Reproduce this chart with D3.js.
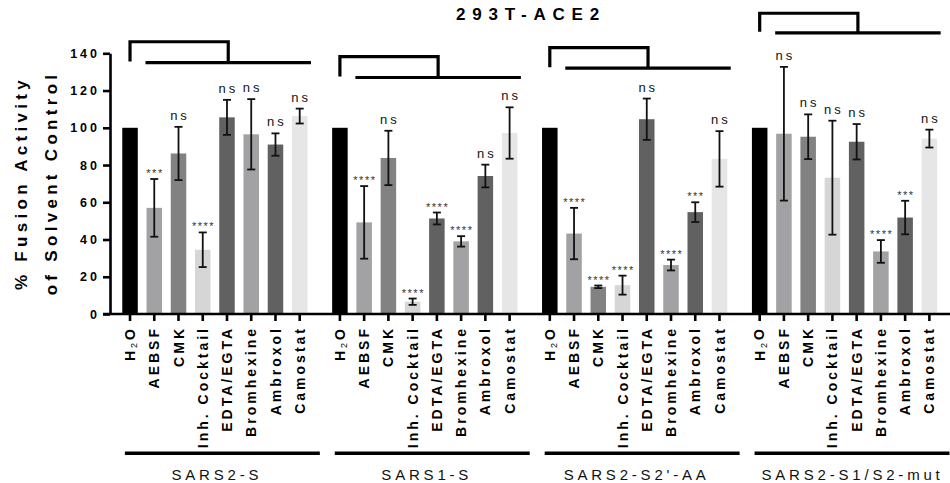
<!DOCTYPE html>
<html><head><meta charset="utf-8">
<script src="https://cdn.jsdelivr.net/npm/d3@7"></script>
<style>
body{margin:0;background:#fff;}
text{font-family:"Liberation Sans",Arial,sans-serif;}
</style></head>
<body><svg id="c" width="950" height="483"></svg>
<script>
const groups = ["SARS2-S","SARS1-S","SARS2-S2'-AA","SARS2-S1/S2-mut"];
const treatments = ["H2O","AEBSF","CMK","Inh. Cocktail","EDTA/EGTA","Bromhexine","Ambroxol","Camostat"];
const barColors = ["#000000","#a2a2a5","#828282","#d6d6d6","#616161","#a2a2a5","#616161","#e6e6e6"];

const meanSARS2S   = [100, 57.0, 86.2, 34.5, 105.6, 96.5, 91.0, 106.3];
const errSARS2S    = [0, 15.5, 14.3, 9.3, 9.4, 18.9, 6.0, 4.0];
const sigSARS2S    = ["", "***", "ns", "****", "ns", "ns", "ns", "ns"];

const meanSARS1S   = [100, 49.2, 83.8, 6.6, 51.3, 39.0, 74.1, 97.2];
const errSARS1S    = [0, 19.5, 14.6, 1.7, 3.2, 2.8, 6.1, 13.8];
const sigSARS1S    = ["", "****", "ns", "****", "****", "****", "ns", "ns"];

const meanS2AA     = [100, 43.2, 14.6, 15.5, 104.6, 26.3, 54.7, 83.3];
const errS2AA      = [0, 13.8, 0.7, 5.1, 11.1, 2.9, 5.3, 14.9];
const sigS2AA      = ["", "****", "****", "****", "ns", "****", "***", "ns"];

const meanS1S2mut  = [100, 96.8, 95.2, 73.2, 92.5, 33.6, 51.8, 94.2];
const errS1S2mut   = [0, 35.9, 12.0, 30.6, 9.5, 6.1, 9.0, 4.8];
const sigS1S2mut   = ["", "ns", "ns", "ns", "ns", "****", "***", "ns"];

const bracketTop = [146.2, 138.2, 143.0, 161.5];
const bracketLow = [135.0, 127.0, 132.0, 151.0];

const yTicks = [0, 20, 40, 60, 80, 100, 120, 140];
const title = "293T-ACE2";
const yTitle1 = "% Fusion Activity";
const yTitle2 = "of Solvent Control";

const means = [meanSARS2S, meanSARS1S, meanS2AA, meanS1S2mut];
const errs = [errSARS2S, errSARS1S, errS2AA, errS1S2mut];
const sigs = [sigSARS2S, sigSARS1S, sigS2AA, sigS1S2mut];

const data = [];
groups.forEach((g, gi) => treatments.forEach((t, ti) => data.push({
  group: g, gi, t, ti, v: means[gi][ti], e: errs[gi][ti], s: sigs[gi][ti], color: barColors[ti]
})));

const svg = d3.select("#c");
const x0 = d3.scaleBand().domain(groups).range([117.9, 941.5]).paddingInner(0.076).paddingOuter(0);
const x1 = d3.scaleBand().domain(treatments).range([0, x0.bandwidth()]).paddingInner(0.36).paddingOuter(0.18);
const y = d3.scaleLinear().domain([0, 140]).range([314, 53.3]);
const cx = d => x0(d.group) + x1(d.t) + x1.bandwidth() / 2;

// bars
svg.append("g").selectAll("rect").data(data).join("rect")
  .attr("x", d => x0(d.group) + x1(d.t))
  .attr("width", x1.bandwidth())
  .attr("y", d => y(d.v))
  .attr("height", d => y(0) - y(d.v))
  .attr("fill", d => d.color);

// error bars
const eb = svg.append("g").attr("stroke", "#111").attr("stroke-width", 1.8).attr("fill", "none");
data.filter(d => d.e > 0).forEach(d => {
  const c = cx(d);
  eb.append("line").attr("x1", c).attr("x2", c).attr("y1", y(d.v + d.e)).attr("y2", y(d.v - d.e));
  eb.append("line").attr("x1", c - 4).attr("x2", c + 4).attr("y1", y(d.v + d.e)).attr("y2", y(d.v + d.e));
  eb.append("line").attr("x1", c - 4).attr("x2", c + 4).attr("y1", y(d.v - d.e)).attr("y2", y(d.v - d.e));
});

// significance labels
svg.append("g").selectAll("text").data(data.filter(d => d.s)).join("text")
  .attr("x", d => cx(d) + (d.s === "ns" ? 1.5 : 0.75))
  .attr("y", d => y(d.v + d.e) - (d.s === "ns" ? 7 : 2))
  .attr("text-anchor", "middle")
  .style("font-size", d => d.s === "ns" ? "13px" : "11px")
  .style("letter-spacing", d => d.s === "ns" ? "3px" : "1.5px")
  .attr("fill", d => d.s === "ns" ? "#111" : "#333")
  .text(d => d.s);

// y axis
const yAxis = svg.append("g").attr("transform", "translate(110,0)")
  .call(d3.axisLeft(y).tickValues(yTicks).tickSize(7).tickSizeOuter(0).tickPadding(3));
yAxis.select(".domain").attr("stroke", "#000").attr("stroke-width", 2.6);
yAxis.selectAll(".tick line").attr("stroke", "#000").attr("stroke-width", 2.6);
yAxis.selectAll(".tick text").attr("fill", "#000").style("font-size", "12.5px").style("font-weight", "bold")
  .style("letter-spacing", "3px").attr("font-family", null);

// x baseline & ticks
svg.append("line").attr("x1", 103).attr("x2", 950).attr("y1", y(0)).attr("y2", y(0))
  .attr("stroke", "#000").attr("stroke-width", 2.6);
svg.append("g").selectAll("line").data(data).join("line")
  .attr("x1", cx).attr("x2", cx).attr("y1", y(0)).attr("y2", y(0) + 7)
  .attr("stroke", "#000").attr("stroke-width", 2.6);

// x tick labels
const xl = svg.append("g").selectAll("text").data(data).join("text")
  .attr("transform", d => `translate(${cx(d)},${y(0) + 12}) rotate(-90)`)
  .attr("text-anchor", "end").attr("dy", "0.36em")
  .style("font-size", "14px").style("font-weight", "bold").style("letter-spacing", "3px");
xl.each(function(d) {
  const t = d3.select(this);
  if (d.t === "H2O") {
    t.append("tspan").text("H");
    t.append("tspan").text("2").style("font-size", "9px").style("font-weight", "normal").attr("dy", "0.25em");
    t.append("tspan").text("O").attr("dy", "-0.18em");
  } else t.text(d.t);
});

// brackets
const br = svg.append("g").attr("stroke", "#000").attr("fill", "none").attr("stroke-width", 3.2);
groups.forEach((g, gi) => {
  const h2o = x0(g) + x1(treatments[0]) + x1.bandwidth() / 2;
  const left = x0(g) + x1(treatments[1]) - 1;
  const right = x0(g) + x1(treatments[7]) + x1.bandwidth() + 3.5;
  const mid = (left + right) / 2;
  br.append("path").attr("d", `M${h2o},${y(bracketLow[gi]) - 1}V${y(bracketTop[gi])}H${mid}V${y(bracketLow[gi])}`);
  br.append("line").attr("x1", left).attr("x2", right).attr("y1", y(bracketLow[gi])).attr("y2", y(bracketLow[gi]));
});

// group underlines + labels
svg.append("g").selectAll("line").data(groups).join("line")
  .attr("x1", g => x0(g) + 7).attr("x2", g => x0(g) + x0.bandwidth() + 8)
  .attr("y1", 453.3).attr("y2", 453.3).attr("stroke", "#000").attr("stroke-width", 3.5);
svg.append("g").selectAll("text").data(groups).join("text")
  .attr("x", (g, i) => x0(g) + x0.bandwidth() / 2 + 2 + (i === 3 ? 6 : 0))
  .attr("y", 479.5).attr("text-anchor", "middle")
  .style("font-size", "15px").style("letter-spacing", "3.8px").attr("fill", "#111")
  .text(g => g);

// title
svg.append("text").attr("x", 531).attr("y", 19.5).attr("text-anchor", "middle")
  .style("font-size", "17px").style("font-weight", "bold").style("letter-spacing", "6.8px")
  .text(title);

// y title
const yt = svg.append("text").attr("transform", "translate(0,185) rotate(-90)")
  .attr("text-anchor", "middle").style("font-size", "17px").style("font-weight", "bold")
  .style("letter-spacing", "4.3px");
yt.append("tspan").attr("x", 2).attr("y", 27).text(yTitle1);
yt.append("tspan").attr("x", 2).attr("y", 57).text(yTitle2);
</script></body></html>
